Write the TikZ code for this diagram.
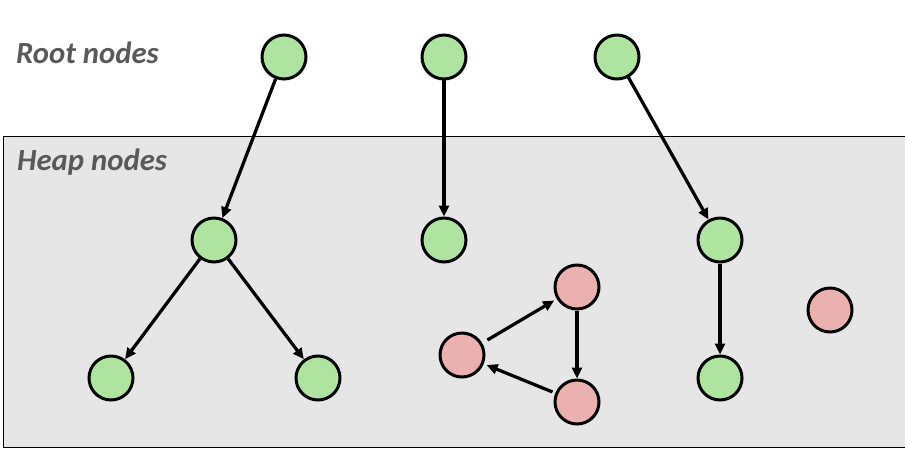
\documentclass[tikz,border=0pt]{standalone}
\usepackage{fontspec}
\setmainfont{Carlito}
\definecolor{livegreen}{RGB}{174,228,160}
\definecolor{deadpink}{RGB}{235,176,176}
\definecolor{heapgray}{RGB}{230,230,230}
\definecolor{titlegray}{RGB}{89,89,89}
\usetikzlibrary{arrows.meta}

\begin{document}
\begin{tikzpicture}[x=0.02cm, y=-0.02cm,
  obj/.style={circle, draw, line width=0.06cm, minimum size=0.88cm, inner sep=0pt},
  live/.style={obj, fill=livegreen},
  dead/.style={obj, fill=deadpink},
  ptr/.style={-{Triangle[length=0.22cm, width=0.2cm]}, line width=0.065cm},
  title/.style={anchor=west, font=\fontsize{17.5}{20}\selectfont\bfseries\itshape, text=titlegray}]
\useasboundingbox (0,0) rectangle (905,450);

% Heap area
\fill[heapgray] (3,136) rectangle (910,447);
\draw[line width=0.02cm] (910,136) -- (3,136) -- (3,447) -- (910,447);

% Titles
\node[title] (roottitle) at (10,53) {Root nodes};
\node[title] (heaptitle) at (11,162) {Heap nodes};

% Root nodes
\node[live] (r1) at (284,57) {};
\node[live] (r2) at (444,57) {};
\node[live] (r3) at (617,57) {};

% Reachable heap nodes
\node[live] (h1) at (214,240) {};
\node[live] (h2) at (444,240) {};
\node[live] (h3) at (720,240) {};
\node[live] (h4) at (111,378) {};
\node[live] (h5) at (318,378) {};
\node[live] (h6) at (720,378) {};

% Garbage
\node[dead] (g1) at (577,287) {};
\node[dead] (g2) at (462,355) {};
\node[dead] (g3) at (577,402) {};
\node[dead] (g4) at (830,310) {};

% Pointers
\draw[ptr] (r1) -- (h1);
\draw[ptr] (r2) -- (h2);
\draw[ptr] (r3) -- (h3);
\draw[ptr] (h1) -- (h4);
\draw[ptr] (h1) -- (h5);
\draw[ptr] (h3) -- (h6);
\draw[ptr, shorten <=0.12cm, shorten >=0.06cm] (g2) -- (g1);
\draw[ptr] (g1) -- (g3);
\draw[ptr, shorten <=0.06cm, shorten >=0.06cm] (g3) -- (g2);
\end{tikzpicture}
\end{document}
